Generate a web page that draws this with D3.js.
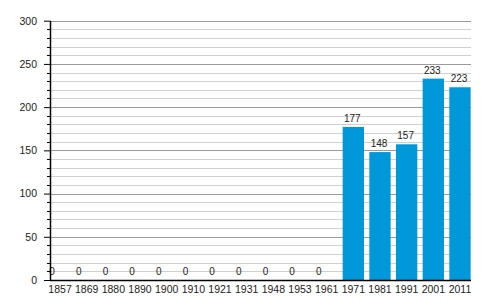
<!DOCTYPE html>
<html>
<head>
<meta charset="utf-8">
<script src="https://cdn.jsdelivr.net/npm/d3@7"></script>
<style>
	body { margin: 0; background: #fff; }
	text { font-family: Arial, "Liberation Sans", sans-serif; fill: #222; }
</style>
</head>
<body>
<div id="chart"></div>
<script>

// census years and values
const years = ['1857', '1869', '1880', '1890', '1900', '1910', '1921', '1931', '1948', '1953', '1961', '1971', '1981', '1991', '2001', '2011'];
const values = [0, 0, 0, 0, 0, 0, 0, 0, 0, 0, 0, 177, 148, 157, 233, 223];
const yTickValues = [0, 50, 100, 150, 200, 250, 300];

const width = 500,
	height = 300,
	barColor = '#0098d8',
	axisLeft = 50,
	plotRight = 471;

const svg = d3.select('#chart').append('svg')
	.attr('width', width)
	.attr('height', height);

const x = d3.scaleBand()
	.domain(years)
	.range([46.7, 473.3])
	.paddingInner(0.2)
	.paddingOuter(0.1);

const y = d3.scaleLinear()
	.domain([0, 300])
	.range([280, 20.7]);

// minor gridlines every 10, major every 50
const gridTicks = d3.range(10, 301, 10);
svg.append('g').attr('class', 'grid')
	.selectAll('line')
	.data(gridTicks)
	.enter().append('line')
		.attr('x1', axisLeft)
		.attr('x2', plotRight)
		.attr('y1', d => Math.round(y(d)) + 0.5)
		.attr('y2', d => Math.round(y(d)) + 0.5)
		.style('stroke', d => d % 50 == 0 ? '#9a9a9a' : '#d0d0d0')
		.style('stroke-width', 1);

// bars
svg.append('g').attr('class', 'bars')
	.selectAll('rect')
	.data(years)
	.enter().append('rect')
		.attr('x', (d) => x(d))
		.attr('width', x.bandwidth())
		.attr('y', (d, i) => y(values[i]))
		.attr('height', (d, i) => y(0) - y(values[i]))
		.style('fill', barColor);

// value labels (zero bars get their label at the left edge of the slot)
svg.append('g').attr('class', 'labels')
	.selectAll('text')
	.data(years)
	.enter().append('text')
		.attr('x', (d, i) => values[i] == 0 ? x(d) : x(d) + x.bandwidth() / 2 - 1)
		.attr('y', (d, i) => y(values[i]) - 5)
		.attr('text-anchor', (d, i) => values[i] == 0 ? 'start' : 'middle')
		.style('font-size', '10px')
		.text((d, i) => values[i]);

// y axis with minor ticks
const yAxisG = svg.append('g')
	.attr('transform', `translate(${axisLeft},0)`);

yAxisG.selectAll('.minor')
	.data(gridTicks.filter(d => d % 50 != 0))
	.enter().append('line')
		.attr('x1', -3)
		.attr('x2', 0)
		.attr('y1', d => Math.round(y(d)) + 0.5)
		.attr('y2', d => Math.round(y(d)) + 0.5)
		.style('stroke', '#000');

yAxisG.call(d3.axisLeft(y).tickValues(yTickValues).tickSize(6).tickPadding(7))
	.call(g => g.select('.domain').remove())
	.call(g => g.selectAll('.tick line').style('stroke', '#000'))
	.call(g => g.selectAll('.tick text')
		.style('font-size', '10.5px')
		.style('font-family', 'Arial, "Liberation Sans", sans-serif')
		.style('fill', '#222'));

yAxisG.append('line')
	.attr('x1', 0.5).attr('x2', 0.5)
	.attr('y1', y(300)).attr('y2', y(0))
	.style('stroke', '#000')
	.style('stroke-width', 1.5);

// x axis
const xAxisG = svg.append('g')
	.attr('transform', `translate(0,${y(0)})`);

xAxisG.call(d3.axisBottom(x).tickSize(0).tickPadding(6))
	.call(g => g.select('.domain').remove())
	.call(g => g.selectAll('.tick text')
		.style('font-size', '10.5px')
		.style('font-family', 'Arial, "Liberation Sans", sans-serif')
		.style('fill', '#222'));

xAxisG.append('line')
	.attr('x1', axisLeft).attr('x2', plotRight)
	.attr('y1', 0.5).attr('y2', 0.5)
	.style('stroke', '#000')
	.style('stroke-width', 1.5);

</script>
</body>
</html>
